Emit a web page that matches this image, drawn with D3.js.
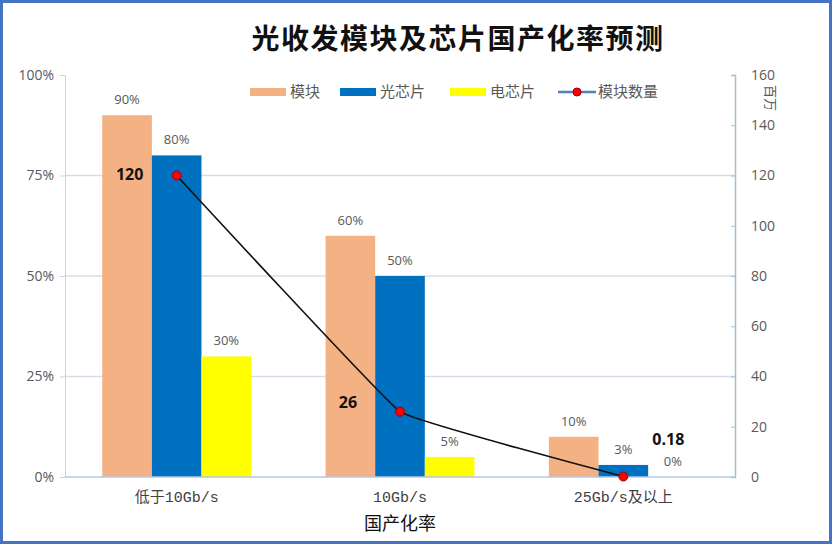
<!DOCTYPE html>
<html>
<head>
<meta charset="utf-8">
<script src="https://cdn.jsdelivr.net/npm/d3@7"></script>
<style>
  html, body { margin: 0; padding: 0; background: #fff; }
  svg { display: block; }
</style>
</head>
<body>
<svg id="chart"></svg>
<script>
////////////////////
//// Data
const categories = ["低于10Gb/s", "10Gb/s", "25Gb/s及以上"]
const seriesNames = ["模块", "光芯片", "电芯片"]
const moduleRate = [0.90, 0.60, 0.10]
const opticalChipRate = [0.80, 0.50, 0.03]
const electricChipRate = [0.30, 0.05, 0.00]
const lineName = "模块数量"
const moduleCount = [120, 26, 0.18]
const leftTicks = [0, 0.25, 0.5, 0.75, 1]
const rightTicks = [0, 20, 40, 60, 80, 100, 120, 140, 160]

////////////////////
//// Layout
const width = 836, height = 547
const plot = { left: 65, right: 735, top: 75, bottom: 477 }
const colors = ["#F4B183", "#0070C0", "#FFFF00"]
const grey = "#595959"
const cjk = "'Noto Sans CJK SC', 'Noto Sans', sans-serif"

const svg = d3.select("#chart").attr("width", width).attr("height", height)

svg.append("rect")
    .attr("x", 1.5).attr("y", 1.5)
    .attr("width", 829).attr("height", 541)
    .attr("fill", "#fff")
    .attr("stroke", "#4472C4")
    .attr("stroke-width", 3)

const x = d3.scaleBand().domain(categories).range([plot.left, plot.right]).padding(0)
const xs = d3.scaleBand().domain(seriesNames).range([0, x.bandwidth()]).paddingInner(0).paddingOuter(0.75)
const y = d3.scaleLinear().domain([0, 1]).range([plot.bottom, plot.top])
const y2 = d3.scaleLinear().domain([0, 160]).range([plot.bottom, plot.top])

// gridlines
svg.append("g")
    .selectAll("line")
    .data(leftTicks.filter(d => d > 0 && d < 1))
    .join("line")
    .attr("x1", plot.left).attr("x2", plot.right)
    .attr("y1", d => y(d)).attr("y2", d => y(d))
    .attr("stroke", "#D5DEE8")
    .attr("stroke-width", 1.5)

// left axis
const leftAxis = svg.append("g")
    .attr("transform", `translate(${plot.left},0)`)
    .call(d3.axisLeft(y).tickValues(leftTicks).tickFormat(d3.format(".0%")).tickSize(5).tickPadding(6))
leftAxis.select(".domain").attr("stroke", "#C9D3DE")
leftAxis.selectAll(".tick line").attr("stroke", "#C9D3DE")
leftAxis.selectAll("text").attr("fill", grey).attr("font-size", 14).attr("font-family", "'Open Sans', sans-serif")

// right axis
const rightAxis = svg.append("g")
    .attr("transform", `translate(${plot.right},0)`)
    .call(d3.axisRight(y2).tickValues(rightTicks).tickSizeInner(-4).tickSizeOuter(-4).tickPadding(16))
rightAxis.select(".domain").attr("stroke", "#9CC3D5").attr("stroke-width", 1.5)
rightAxis.selectAll(".tick line").attr("stroke", "#9CC3D5")
rightAxis.selectAll("text").attr("fill", grey).attr("font-size", 14).attr("font-family", "'Open Sans', sans-serif")

svg.append("text")
    .attr("transform", "translate(766,98) rotate(90)")
    .attr("text-anchor", "middle")
    .attr("font-family", cjk)
    .attr("font-size", 13)
    .attr("fill", grey)
    .text("百万")

// bars
const barData = categories.map((c, i) => [moduleRate[i], opticalChipRate[i], electricChipRate[i]]
    .map((v, j) => ({ category: c, series: seriesNames[j], value: v, color: colors[j] })))

const groups = svg.append("g")
    .selectAll("g")
    .data(barData)
    .join("g")
    .attr("transform", d => `translate(${x(d[0].category)},0)`)

groups.selectAll("rect")
    .data(d => d)
    .join("rect")
    .attr("x", d => xs(d.series))
    .attr("width", xs.bandwidth())
    .attr("y", d => y(d.value))
    .attr("height", d => y(0) - y(d.value))
    .attr("fill", d => d.color)

groups.selectAll("text")
    .data(d => d)
    .join("text")
    .attr("x", d => xs(d.series) + xs.bandwidth() / 2)
    .attr("y", d => y(d.value) - 11)
    .attr("text-anchor", "middle")
    .attr("font-family", "'Open Sans', sans-serif")
    .attr("font-size", 13)
    .attr("fill", grey)
    .text(d => d3.format(".0%")(d.value))

// bottom axis line
svg.append("line")
    .attr("x1", plot.left).attr("x2", plot.right)
    .attr("y1", plot.bottom).attr("y2", plot.bottom)
    .attr("stroke", "#B4C7E7")
    .attr("stroke-width", 1.5)

// line series
const cx = c => x(c) + x.bandwidth() / 2
const pts = categories.map((c, i) => [cx(c), y2(moduleCount[i])])

svg.append("path")
    .attr("d", d3.line().curve(d3.curveCardinal.tension(0.8))(pts))
    .attr("fill", "none")
    .attr("stroke", "#111")
    .attr("stroke-width", 1.6)

svg.append("g")
    .selectAll("circle")
    .data(pts)
    .join("circle")
    .attr("cx", d => d[0]).attr("cy", d => d[1])
    .attr("r", 4.5)
    .attr("fill", "#FF0000")
    .attr("stroke", "#A00000")
    .attr("stroke-width", 1)

const countOffsets = [[-47, 4], [-52, -4], [45, -32]]
svg.append("g")
    .selectAll("text")
    .data(pts)
    .join("text")
    .attr("x", (d, i) => d[0] + countOffsets[i][0])
    .attr("y", (d, i) => d[1] + countOffsets[i][1])
    .attr("text-anchor", "middle")
    .attr("font-family", "'Open Sans', sans-serif")
    .attr("font-weight", "bold")
    .attr("font-size", 16)
    .attr("fill", "#111")
    .text((d, i) => moduleCount[i])

// category labels
svg.append("g")
    .selectAll("text")
    .data(categories)
    .join("text")
    .attr("x", d => cx(d))
    .attr("y", 502)
    .attr("text-anchor", "middle")
    .attr("font-family", "'Liberation Mono', " + cjk)
    .attr("font-size", 15)
    .attr("fill", "#404040")
    .text(d => d)

svg.append("text")
    .attr("x", 400).attr("y", 530)
    .attr("text-anchor", "middle")
    .attr("font-family", cjk)
    .attr("font-size", 18)
    .attr("fill", "#111")
    .text("国产化率")

// title
svg.append("text")
    .attr("x", 458).attr("y", 49)
    .attr("text-anchor", "middle")
    .attr("font-family", cjk)
    .attr("font-weight", "bold")
    .attr("font-size", 28)
    .attr("letter-spacing", 1.5)
    .attr("fill", "#111")
    .text("光收发模块及芯片国产化率预测")

// legend
const legendItems = [
    { name: seriesNames[0], color: colors[0], x: 250 },
    { name: seriesNames[1], color: colors[1], x: 340 },
    { name: seriesNames[2], color: colors[2], x: 450 },
    { name: lineName, line: true, x: 558 }
]
const legend = svg.append("g").attr("transform", "translate(0,92)")
legendItems.forEach(it => {
    if (it.line) {
        legend.append("line")
            .attr("x1", it.x).attr("x2", it.x + 38)
            .attr("stroke", "#4F81BD").attr("stroke-width", 2.5)
        legend.append("circle")
            .attr("cx", it.x + 19).attr("r", 4)
            .attr("fill", "#FF0000").attr("stroke", "#A00000")
    } else {
        legend.append("rect")
            .attr("x", it.x).attr("y", -4)
            .attr("width", 36).attr("height", 8)
            .attr("fill", it.color)
    }
    legend.append("text")
        .attr("x", it.x + 40).attr("y", 5)
        .attr("font-family", cjk)
        .attr("font-size", 15)
        .attr("fill", grey)
        .text(it.name)
})
</script>
</body>
</html>
